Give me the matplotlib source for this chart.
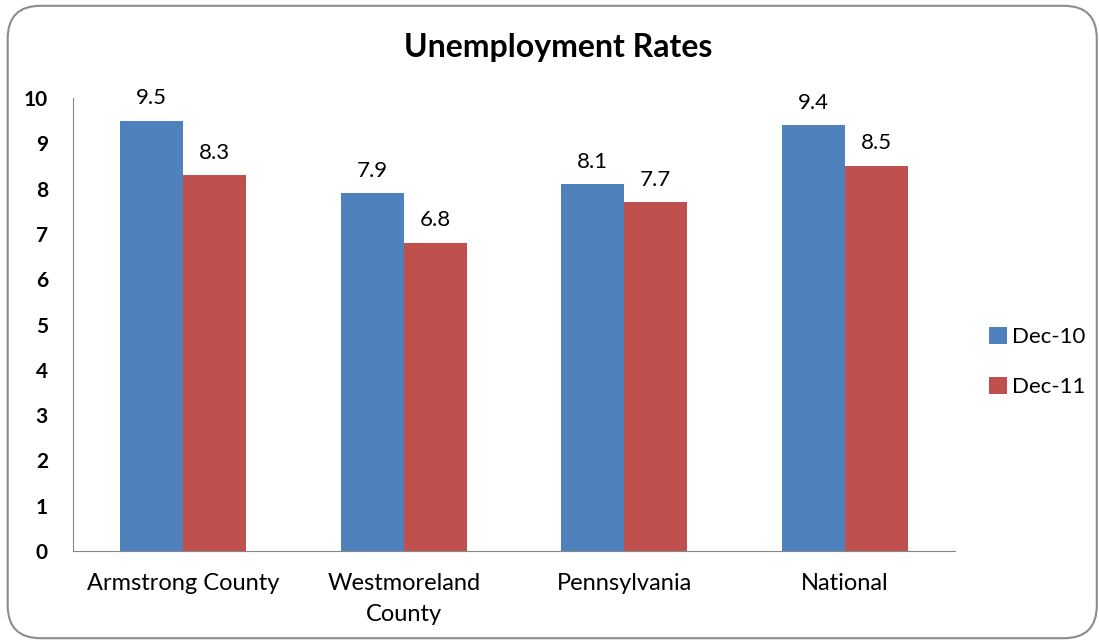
import matplotlib
matplotlib.use("Agg")
import matplotlib.pyplot as plt
from matplotlib.patches import FancyBboxPatch
import numpy as np

categories = ["Armstrong County", "Westmoreland\nCounty", "Pennsylvania", "National"]
dec10 = [9.5, 7.9, 8.1, 9.4]
dec11 = [8.3, 6.8, 7.7, 8.5]
series_names = ["Dec-10", "Dec-11"]
yticks = list(range(0, 11))

plt.rcParams['font.family'] = ['Lato', 'DejaVu Sans']

fig = plt.figure(figsize=(10.99, 6.44), dpi=100)
border = FancyBboxPatch((0.007, 0.009), 0.991, 0.982, boxstyle="round,pad=0,rounding_size=0.03",
                        transform=fig.transFigure, facecolor='none', edgecolor='#8c8c8c',
                        linewidth=1.5, mutation_aspect=1.7, zorder=-1)
fig.patches.append(border)

ax = fig.add_axes([0.0664, 0.1444, 0.8026, 0.7034])
ax.patch.set_alpha(0)
x = np.arange(len(categories))
w = 0.285
b1 = ax.bar(x - w/2, dec10, w, color='#4F81BD', label=series_names[0])
b2 = ax.bar(x + w/2, dec11, w, color='#C0504D', label=series_names[1])
for bars, vals in ((b1, dec10), (b2, dec11)):
    for r, v in zip(bars, vals):
        ax.annotate(f"{v}", (r.get_x() + r.get_width()/2, v), xytext=(0, 9),
                    textcoords='offset points', ha='center', va='bottom', fontsize=16)

ax.set_xlim(-0.5, len(categories) - 0.5)
ax.set_ylim(0, 10)
ax.set_yticks(yticks)
ax.set_yticklabels([str(t) for t in yticks], fontsize=15, fontweight='bold')
ax.set_xticks(x)
ax.set_xticklabels(categories, fontsize=17, linespacing=1.55)
for s in ('top', 'right'):
    ax.spines[s].set_visible(False)
for s in ('left', 'bottom'):
    ax.spines[s].set_color('#868686')
ax.tick_params(axis='both', length=0)
ax.tick_params(axis='y', pad=18)
ax.tick_params(axis='x', pad=16)

fig.text(0.508, 0.927, "Unemployment Rates", ha='center', va='center', fontsize=23, fontweight='bold')

fig.legend(handles=[b1, b2], labels=series_names, loc='center left', bbox_to_anchor=(0.900, 0.438),
           frameon=False, fontsize=16, handlelength=0.8, handleheight=0.8, handletextpad=0.25,
           labelspacing=1.35, borderaxespad=0, borderpad=0)

fig.savefig("out.png", dpi=100)
